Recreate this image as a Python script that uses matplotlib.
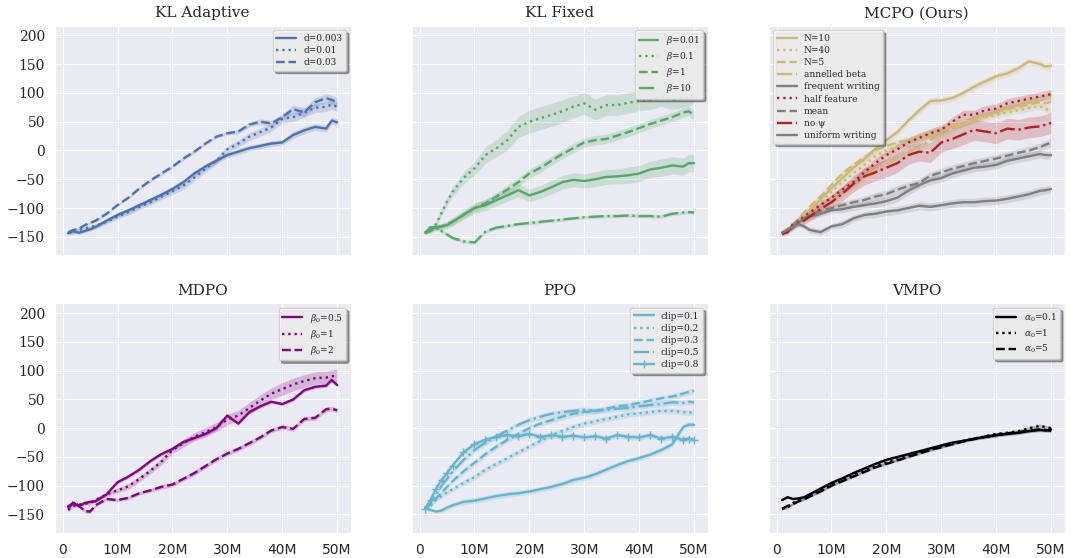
import numpy as np
import matplotlib
matplotlib.use("Agg")
import matplotlib.pyplot as plt
from matplotlib.ticker import FuncFormatter
import seaborn as sns

# environment steps, in millions
steps = [1, 2, 3, 4, 5, 6, 8, 10, 12, 14, 16, 18, 20, 22, 24, 26, 28, 30, 32, 34, 36, 38, 40, 42, 44, 46, 48, 49, 50]

# KL Adaptive
kla_d003 = [-144, -140, -143, -140, -137, -133, -122, -112, -104, -95, -86, -77, -67, -55, -40, -28, -18, -8, -2, 4, 8, 12, 14, 27, 35, 41, 38, 52, 49]
kla_d01 = [-142, -143, -138, -136, -133, -131, -124, -115, -107, -98, -90, -80, -71, -61, -47, -32, -18, 2, 12, 24, 32, 40, 55, 58, 66, 74, 76, 80, 76]
kla_d03 = [-142, -138, -136, -130, -126, -122, -110, -95, -82, -66, -52, -40, -28, -14, -2, 12, 24, 30, 33, 45, 50, 47, 58, 72, 66, 84, 91, 88, 84]
kla_d003_sd = [3, 3, 3, 3, 3, 3, 3, 4, 4, 4, 4, 5, 5, 5, 5, 5, 5, 5, 5, 5, 5, 5, 5, 6, 6, 6, 6, 6, 6]
kla_d01_sd = [3, 3, 3, 3, 3, 4, 4, 4, 5, 5, 5, 5, 6, 6, 6, 6, 6, 6, 6, 7, 7, 7, 7, 8, 8, 8, 8, 8, 8]
kla_d03_sd = [2, 2, 2, 2, 2, 2, 2, 2, 2, 2, 3, 3, 3, 3, 3, 3, 3, 3, 4, 4, 5, 5, 6, 7, 8, 8, 8, 8, 8]

# KL Fixed
klf_b001 = [-143, -136, -133, -132, -130, -124, -112, -100, -95, -86, -78, -69, -78, -72, -64, -55, -51, -53, -50, -46, -45, -43, -40, -33, -30, -26, -28, -22, -22]
klf_b01 = [-143, -138, -128, -108, -89, -72, -48, -31, -8, 4, 18, 41, 50, 56, 62, 68, 76, 82, 71, 79, 79, 83, 86, 88, 94, 88, 91, 92, 100]
klf_b1 = [-143, -140, -135, -132, -128, -124, -112, -100, -92, -80, -68, -55, -40, -30, -18, -6, 4, 14, 18, 20, 26, 32, 39, 46, 52, 58, 66, 68, 62]
klf_b10 = [-143, -133, -135, -140, -146, -152, -158, -160, -141, -134, -131, -128, -126, -124, -122, -120, -118, -116, -115, -114, -114, -113, -114, -114, -115, -110, -108, -107, -108]
klf_b001_sd = [3, 4, 5, 5, 6, 7, 8, 9, 10, 10, 10, 11, 11, 11, 12, 12, 12, 12, 13, 13, 13, 14, 14, 14, 15, 15, 15, 15, 15]
klf_b01_sd = [3, 4, 5, 6, 7, 8, 10, 12, 14, 15, 17, 18, 20, 20, 20, 20, 19, 19, 18, 18, 18, 18, 17, 17, 17, 17, 16, 16, 16]
klf_b1_sd = [3, 4, 4, 5, 5, 6, 6, 7, 7, 7, 8, 8, 8, 8, 8, 8, 8, 8, 8, 8, 8, 8, 8, 8, 8, 8, 8, 8, 8]
klf_b10_sd = [2, 2, 2, 3, 3, 3, 3, 3, 3, 3, 3, 3, 3, 3, 3, 3, 3, 3, 3, 3, 3, 3, 3, 3, 3, 3, 3, 3, 3]

# MCPO (Ours)
mcpo_n10 = [-143, -140, -128, -120, -112, -104, -85, -66, -48, -30, -15, 3, 18, 32, 52, 70, 86, 87, 91, 100, 111, 120, 129, 134, 143, 155, 150, 146, 147]
mcpo_n40 = [-143, -138, -130, -122, -115, -108, -90, -72, -55, -40, -25, -10, 0, 8, 15, 25, 30, 35, 42, 48, 52, 58, 62, 66, 70, 74, 77, 72, 70]
mcpo_n5 = [-143, -136, -128, -118, -108, -98, -80, -60, -40, -25, -12, 0, 8, 14, 18, 22, 28, 35, 42, 48, 55, 60, 66, 72, 76, 80, 84, 82, 85]
mcpo_anneal = [-143, -140, -134, -128, -122, -115, -102, -90, -75, -60, -45, -33, -22, -12, -3, 8, 18, 28, 38, 48, 55, 62, 68, 74, 80, 85, 90, 94, 95]
mcpo_frequent = [-143, -140, -135, -125, -118, -115, -110, -104, -102, -98, -95, -92, -88, -82, -70, -60, -52, -48, -40, -35, -30, -28, -25, -18, -14, -10, -6, -8, -8]
mcpo_half = [-145, -140, -128, -122, -115, -108, -95, -82, -68, -55, -38, -22, -8, 2, 14, 22, 30, 36, 50, 62, 62, 70, 73, 82, 86, 90, 94, 96, 98]
mcpo_mean = [-143, -138, -130, -122, -118, -112, -105, -100, -95, -90, -86, -80, -76, -68, -62, -56, -44, -38, -32, -27, -22, -18, -14, -9, -4, 0, 6, 10, 14]
mcpo_nopsi = [-145, -142, -130, -126, -122, -115, -102, -90, -75, -58, -45, -38, -30, -22, -8, -2, -4, 14, 20, 28, 36, 33, 30, 38, 36, 40, 42, 45, 48]
mcpo_uniform = [-143, -138, -132, -128, -132, -138, -142, -132, -128, -118, -112, -110, -106, -104, -100, -96, -98, -95, -92, -90, -90, -88, -87, -84, -80, -76, -70, -69, -67]
mcpo_gold_sd = [3, 3, 4, 4, 4, 5, 5, 5, 5, 6, 6, 6, 6, 6, 6, 6, 6, 6, 6, 6, 6, 6, 6, 6, 6, 6, 6, 6, 6]
mcpo_gray_sd = [3, 3, 4, 4, 4, 5, 5, 5, 6, 6, 6, 7, 7, 7, 7, 7, 7, 7, 7, 7, 7, 7, 7, 7, 7, 7, 7, 7, 7]
mcpo_half_sd = [3, 3, 4, 4, 5, 5, 6, 6, 7, 7, 8, 8, 8, 8, 8, 8, 8, 8, 8, 8, 8, 8, 8, 8, 8, 8, 8, 8, 8]
mcpo_nopsi_sd = [3, 4, 5, 6, 7, 8, 10, 12, 13, 14, 15, 15, 16, 16, 16, 16, 17, 17, 17, 18, 18, 18, 18, 18, 18, 18, 18, 18, 18]

# MDPO
mdpo_b05 = [-136, -130, -136, -130, -128, -127, -115, -94, -84, -72, -57, -45, -36, -24, -17, -10, 0, 22, 8, 28, 38, 46, 42, 50, 66, 72, 74, 84, 75]
mdpo_b1 = [-142, -135, -133, -131, -130, -125, -115, -108, -101, -88, -74, -58, -38, -26, -15, -7, 2, 15, 22, 35, 48, 60, 68, 76, 82, 87, 88, 90, 92]
mdpo_b2 = [-140, -128, -135, -144, -145, -134, -123, -125, -121, -113, -108, -102, -98, -88, -78, -66, -54, -44, -36, -26, -16, -4, 2, -1, 16, 18, 33, 34, 31]
mdpo_b05_sd = [2, 2, 2, 2, 2, 2, 2, 3, 3, 3, 3, 3, 3, 3, 3, 3, 3, 3, 3, 3, 3, 3, 3, 3, 3, 3, 3, 3, 3]
mdpo_b1_sd = [3, 3, 3, 3, 3, 4, 4, 4, 5, 5, 5, 6, 6, 7, 7, 8, 8, 9, 9, 10, 10, 10, 11, 11, 11, 11, 11, 11, 11]
mdpo_b2_sd = [2, 2, 2, 3, 3, 3, 3, 3, 3, 3, 3, 4, 4, 4, 4, 4, 4, 4, 4, 4, 4, 4, 4, 4, 4, 4, 4, 4, 4]

# PPO
ppo_c01 = [-138, -142, -145, -143, -138, -134, -128, -126, -122, -118, -115, -113, -110, -106, -102, -97, -90, -86, -80, -72, -64, -57, -52, -46, -38, -28, 2, 6, 6]
ppo_c02 = [-140, -135, -125, -118, -112, -106, -95, -85, -72, -62, -52, -42, -32, -22, -12, -5, 2, 8, 12, 16, 20, 24, 26, 28, 30, 30, 28, 27, 28]
ppo_c03 = [-140, -132, -122, -112, -102, -92, -75, -60, -45, -32, -20, -10, 0, 8, 14, 20, 25, 28, 30, 34, 38, 40, 44, 48, 52, 55, 60, 63, 65]
ppo_c05 = [-140, -128, -115, -100, -88, -76, -55, -38, -25, -14, -4, 6, 14, 20, 25, 28, 30, 32, 30, 32, 34, 35, 38, 40, 42, 45, 44, 46, 45]
ppo_c08 = [-140, -125, -105, -90, -78, -65, -42, -28, -20, -15, -12, -14, -10, -15, -12, -15, -13, -16, -14, -18, -12, -15, -16, -12, -18, -15, -20, -18, -20]
ppo_sd = [3, 3, 3, 4, 4, 4, 5, 5, 5, 5, 5, 5, 5, 5, 5, 5, 5, 5, 5, 5, 5, 5, 5, 5, 5, 5, 5, 5, 5]

# VMPO
vmpo_a01 = [-125, -120, -123, -122, -120, -115, -105, -95, -87, -78, -70, -62, -55, -50, -45, -40, -35, -30, -25, -22, -18, -15, -12, -10, -8, -5, -3, -4, -2]
vmpo_a1 = [-140, -138, -130, -125, -122, -118, -108, -98, -90, -82, -73, -66, -60, -54, -48, -42, -37, -32, -27, -22, -18, -14, -10, -8, -5, 0, 4, 2, 0]
vmpo_a5 = [-140, -135, -132, -127, -124, -119, -110, -100, -92, -84, -76, -68, -62, -56, -50, -44, -38, -33, -28, -23, -19, -15, -12, -9, -7, -4, -2, -3, -5]
vmpo_sd = [2, 2, 2, 2, 2, 2, 2, 2, 2, 2, 2, 2, 2, 2, 2, 2, 2, 2, 2, 2, 2, 3, 3, 3, 3, 3, 3, 3, 3]

BLUE = '#4C72B0'
GREEN = '#55A868'
GOLD = '#CCB974'
GRAY = '#7F7F7F'
RED = '#B22222'
PURPLE = '#800080'
CYAN = '#64B5CD'

# (title, legend location, [(label, mean, sd, color, linestyle, marker)])
panels = [
    ("KL Adaptive", "upper right", [
        ("d=0.003", kla_d003, kla_d003_sd, BLUE, "-", None),
        ("d=0.01", kla_d01, kla_d01_sd, BLUE, ":", None),
        ("d=0.03", kla_d03, kla_d03_sd, BLUE, "--", None),
    ]),
    ("KL Fixed", "upper right", [
        (r"$\beta$=0.01", klf_b001, klf_b001_sd, GREEN, "-", None),
        (r"$\beta$=0.1", klf_b01, klf_b01_sd, GREEN, ":", None),
        (r"$\beta$=1", klf_b1, klf_b1_sd, GREEN, "--", None),
        (r"$\beta$=10", klf_b10, klf_b10_sd, GREEN, "-.", None),
    ]),
    ("MCPO (Ours)", "upper left", [
        ("N=10", mcpo_n10, mcpo_gold_sd, GOLD, "-", None),
        ("N=40", mcpo_n40, mcpo_gold_sd, GOLD, ":", None),
        ("N=5", mcpo_n5, mcpo_gold_sd, GOLD, "--", None),
        ("annelled beta", mcpo_anneal, mcpo_gold_sd, GOLD, "-.", None),
        ("frequent writing", mcpo_frequent, mcpo_gray_sd, GRAY, "-", None),
        ("half feature", mcpo_half, mcpo_half_sd, RED, ":", None),
        ("mean", mcpo_mean, mcpo_gray_sd, GRAY, "--", None),
        ("no ψ", mcpo_nopsi, mcpo_nopsi_sd, RED, "-.", None),
        ("uniform writing", mcpo_uniform, mcpo_gray_sd, GRAY, "-", None),
    ]),
    ("MDPO", "upper right", [
        (r"$\beta_0$=0.5", mdpo_b05, mdpo_b05_sd, PURPLE, "-", None),
        (r"$\beta_0$=1", mdpo_b1, mdpo_b1_sd, PURPLE, ":", None),
        (r"$\beta_0$=2", mdpo_b2, mdpo_b2_sd, PURPLE, "--", None),
    ]),
    ("PPO", "upper right", [
        ("clip=0.1", ppo_c01, ppo_sd, CYAN, "-", None),
        ("clip=0.2", ppo_c02, ppo_sd, CYAN, ":", None),
        ("clip=0.3", ppo_c03, ppo_sd, CYAN, "--", None),
        ("clip=0.5", ppo_c05, ppo_sd, CYAN, "-.", None),
        ("clip=0.8", ppo_c08, ppo_sd, CYAN, "-", "+"),
    ]),
    ("VMPO", "upper right", [
        (r"$\alpha_0$=0.1", vmpo_a01, vmpo_sd, "black", "-", None),
        (r"$\alpha_0$=1", vmpo_a1, vmpo_sd, "black", ":", None),
        (r"$\alpha_0$=5", vmpo_a5, vmpo_sd, "black", "--", None),
    ]),
]

sns.set_style("darkgrid")
plt.rcParams['font.family'] = ['DejaVu Serif']
plt.rcParams['mathtext.fontset'] = 'dejavuserif'

fig, axes = plt.subplots(2, 3, figsize=(10.71, 5.58), dpi=100, sharex=True, sharey=True)
fig.subplots_adjust(left=0.051, right=0.994, top=0.954, bottom=0.045, wspace=0.206, hspace=0.21)

x = np.array(steps)
for ax, (title, loc, curves) in zip(axes.flat, panels):
    for label, mean, sd, color, ls, marker in curves:
        mean = np.array(mean, dtype=float)
        sd = np.array(sd, dtype=float)
        ax.plot(x, mean, color=color, linestyle=ls, linewidth=1.7, marker=marker,
                markersize=6, label=label)
        ax.fill_between(x, mean - sd, mean + sd, color=color, alpha=0.22, linewidth=0)
    ax.set_title(title, fontsize=11)
    ax.legend(loc=loc, fontsize=6.5, frameon=True, shadow=True, fancybox=True,
              facecolor='white', framealpha=0.8, edgecolor='#cccccc',
              handlelength=2.2, borderpad=0.4, labelspacing=0.35)
    ax.tick_params(axis='both', labelsize=10)

axes[0, 0].set_ylim(-182, 217)
axes[0, 0].set_yticks([-150, -100, -50, 0, 50, 100, 150, 200])
axes[0, 0].set_xticks([0, 10, 20, 30, 40, 50])
axes[0, 0].xaxis.set_major_formatter(FuncFormatter(lambda v, p: "0" if v == 0 else "%dM" % v))
for ax in axes[1]:
    for lbl in ax.get_xticklabels():
        lbl.set_fontfamily('DejaVu Sans')

fig.savefig("out.png", dpi=100)
